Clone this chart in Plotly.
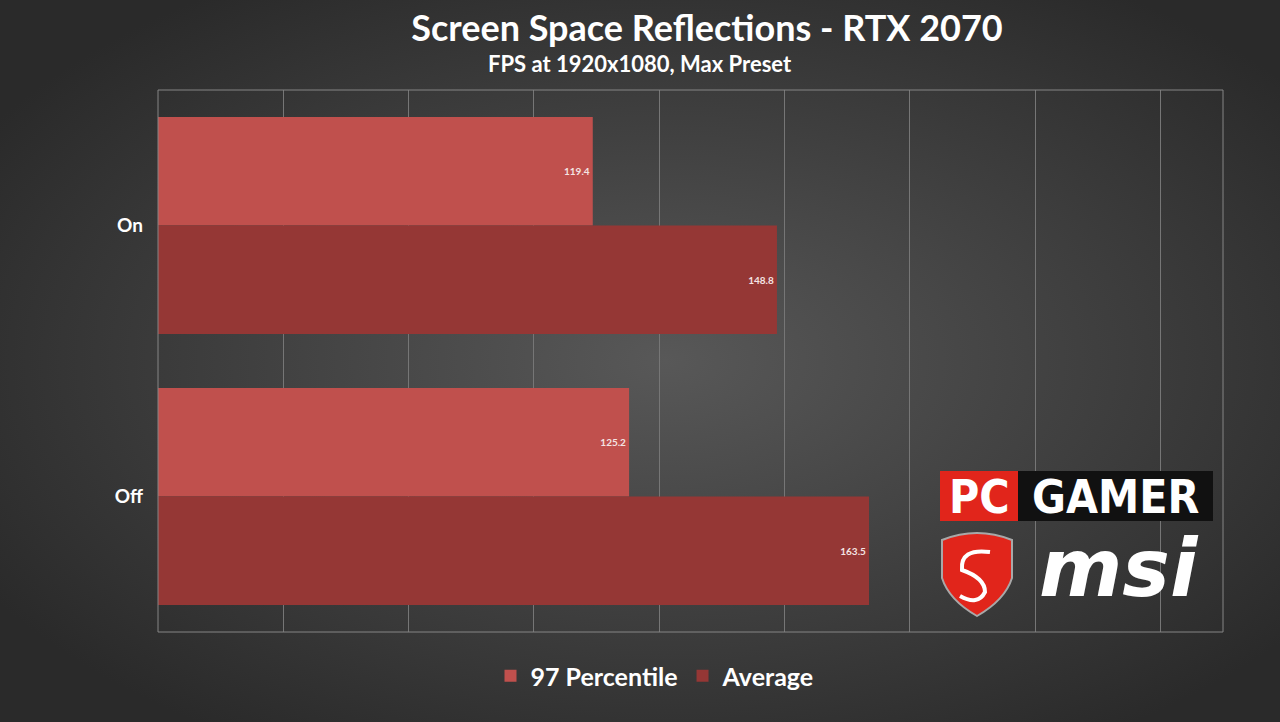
import base64
import plotly.graph_objects as go

# chart data
settings = ["On", "Off"]
pct97_fps = [119.4, 125.2]
avg_fps = [148.8, 163.5]
series_names = ["97 Percentile", "Average"]

W, H = 1280, 722
L, R, T, B = 158, 57, 90, 90
PW, PH = W - L - R, H - T - B

def px(x):
    return (x - L) / PW

def py(y):
    return (H - B - y) / PH

# radial grey backdrop like the Excel chart area
bg_svg = (
    '<svg xmlns="http://www.w3.org/2000/svg" width="1280" height="722">'
    '<defs><radialGradient id="g" cx="0.52" cy="0.5" r="0.62">'
    '<stop offset="0" stop-color="#585858"/>'
    '<stop offset="1" stop-color="#2a2a2a"/>'
    '</radialGradient></defs>'
    '<rect width="1280" height="722" fill="url(#g)"/></svg>'
)
bg_uri = "data:image/svg+xml;base64," + base64.b64encode(bg_svg.encode()).decode()

fig = go.Figure()

label_font = dict(family="Lato", size=10, color="#F4E4E3", weight="bold")
fig.add_trace(go.Bar(
    y=settings, x=pct97_fps, name=series_names[0], orientation="h",
    marker=dict(color="#C0504D", line=dict(width=0)),
    text=[f"{v:.1f}" for v in pct97_fps], textposition="inside",
    insidetextanchor="end", textfont=label_font,
))
fig.add_trace(go.Bar(
    y=settings, x=avg_fps, name=series_names[1], orientation="h",
    marker=dict(color="#953735", line=dict(width=0)),
    text=[f"{v:.1f}" for v in avg_fps], textposition="inside",
    insidetextanchor="end", textfont=label_font,
))

shapes = [
    # plot area border
    dict(type="rect", xref="paper", yref="paper", x0=0, x1=1, y0=0, y1=1,
         line=dict(color="#858585", width=1), layer="above"),
    # PC GAMER logo boxes
    dict(type="rect", xref="paper", yref="paper", x0=px(940), x1=px(1018),
         y0=py(521), y1=py(471), fillcolor="#E1251B", line=dict(width=0), layer="above"),
    dict(type="rect", xref="paper", yref="paper", x0=px(1018), x1=px(1213),
         y0=py(521), y1=py(471), fillcolor="#111111", line=dict(width=0), layer="above"),
]

# msi shield
path = "M {} {} ".format(px(942), py(540))
path += "Q {} {} {} {} ".format(px(977), py(526), px(1012), py(540))
path += "L {} {} ".format(px(1012), py(578))
path += "Q {} {} {} {} ".format(px(1005), py(600), px(977), py(616))
path += "Q {} {} {} {} ".format(px(949), py(600), px(942), py(578))
path += "Z"
shapes.append(dict(type="path", xref="paper", yref="paper", path=path,
                   fillcolor="#E1251B", line=dict(color="#A8A8A8", width=2), layer="above"))
# rough dragon swirl
drag = "M {} {} ".format(px(990), py(552))
drag += "Q {} {} {} {} ".format(px(960), py(548), px(962), py(570))
drag += "Q {} {} {} {} ".format(px(985), py(578), px(985), py(592))
drag += "Q {} {} {} {} ".format(px(978), py(606), px(960), py(596))
shapes.append(dict(type="path", xref="paper", yref="paper", path=drag,
                   line=dict(color="white", width=4), layer="above"))

annotations = [
    dict(text="<b>FPS at 1920x1080, Max Preset</b>", x=px(640), y=py(64), xref="paper", yref="paper",
         xanchor="center", yanchor="middle", showarrow=False,
         font=dict(family="Lato", size=22, color="white")),
    dict(text="<b>PC</b>", x=px(979), y=py(497), xref="paper", yref="paper",
         xanchor="center", yanchor="middle", showarrow=False,
         font=dict(family="DejaVu Sans Condensed", size=46, color="white")),
    dict(text="<b>GAMER</b>", x=px(1115), y=py(497), xref="paper", yref="paper",
         xanchor="center", yanchor="middle", showarrow=False,
         font=dict(family="DejaVu Sans Condensed", size=46, color="white")),
    dict(text="<b><i>msi</i></b>", x=px(1119), y=py(568), xref="paper", yref="paper",
         xanchor="center", yanchor="middle", showarrow=False,
         font=dict(family="DejaVu Sans", size=80, color="white")),
]

fig.update_layout(
    width=W, height=H,
    margin=dict(l=L, r=R, t=T, b=B),
    paper_bgcolor="#2c2c2c",
    plot_bgcolor="rgba(0,0,0,0)",
    barmode="group", bargap=0.2, bargroupgap=0,
    title=dict(text="<b>Screen Space Reflections - RTX 2070</b>", xref="paper", x=px(707),
               xanchor="center", yref="container", y=1 - 28 / H, yanchor="middle",
               font=dict(family="Lato", size=36, color="white")),
    xaxis=dict(range=[50, 220], tick0=50, dtick=20, showticklabels=False,
               showgrid=True, gridcolor="#767676", gridwidth=1, zeroline=False,
               showline=False, fixedrange=True),
    yaxis=dict(type="category", categoryorder="array", categoryarray=settings,
               autorange="reversed", showgrid=False, showline=False, ticks="",
               ticklabelstandoff=14,
               tickfont=dict(family="Lato", size=19, color="white", weight="bold")),
    legend=dict(orientation="h", x=px(655), xanchor="center", y=py(676), yanchor="middle",
                font=dict(family="Lato", size=25, color="white", weight="bold"),
                bgcolor="rgba(0,0,0,0)", traceorder="normal"),
    shapes=shapes,
    annotations=annotations,
    images=[dict(source=bg_uri, xref="paper", yref="paper", x=px(0), y=py(0),
                 sizex=W / PW, sizey=H / PH, xanchor="left", yanchor="top",
                 sizing="stretch", layer="below")],
)

fig.write_html("out.html", config={"displayModeBar": False},
               post_script="document.body.style.margin='0';")
